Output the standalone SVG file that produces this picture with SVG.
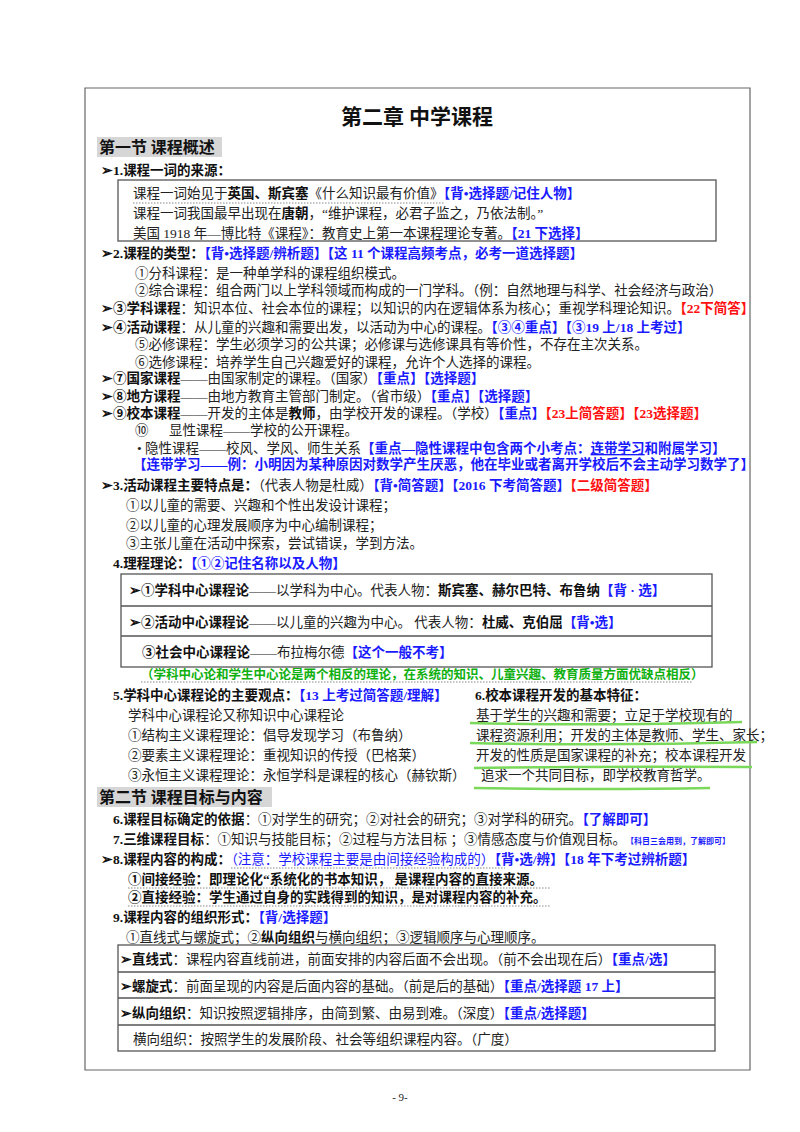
<svg xmlns="http://www.w3.org/2000/svg" width="800" height="1132" viewBox="0 0 800 1132">
<style>
text{font-family:"Liberation Serif","Noto Sans CJK SC",serif;font-size:13.5px;fill:#222}
.b{font-weight:bold;fill:#111}
.bl{font-weight:bold;fill:#1a1aff}
.r{font-weight:bold;fill:#ff1010}
.g{font-weight:bold;fill:#10b010}
.box{fill:none;stroke:#555;stroke-width:1.3}
.gl{stroke:#7ad85a;stroke-width:2.5;fill:none}
.dot{stroke:#888;stroke-width:1;stroke-dasharray:1.5,1.5;fill:none}
</style>
<rect width="800" height="1132" fill="#fff"/>
<g id="page"><path d="M750,88 H85 V1070 H750 Z" fill="none" stroke="#666" stroke-width="1.2"/></g>
<g id="title"><text x="417" y="124" text-anchor="middle" class="b" style="font-size:21px;font-family:'Noto Sans CJK SC',sans-serif">第二章  中学课程</text></g>
<g id="sec1"><rect x="97" y="137" width="125" height="20" fill="#d6d6d6"/><text x="99" y="153" class="b" style="font-size:16px;font-family:'Noto Sans CJK SC',sans-serif">第一节  课程概述</text></g>
<g id="s1">
<text x="101" y="175" class="b">➢1.课程一词的来源：</text>
<rect x="118" y="180" width="598" height="61" class="box"/>
<text x="133" y="198">课程一词始见于<tspan class="b">英国、斯宾塞</tspan>《什么知识最有价值》<tspan class="bl">【背•选择题/记住人物】</tspan></text>
<path d="M133,203 H445" class="dot"/>
<text x="133" y="218">课程一词我国最早出现在<tspan class="b">唐朝</tspan>，“维护课程，必君子监之，乃依法制。”</text>
<text x="133" y="238">美国 1918 年—博比特《课程》：教育史上第一本课程理论专著。<tspan class="bl">【21 下选择】</tspan></text>
</g>
<g id="s2">
<text x="101" y="258" class="b">➢2.课程的类型：<tspan class="bl">【背•选择题/辨析题】【这 11 个课程高频考点，必考一道选择题】</tspan></text>
<text x="135" y="278">①分科课程：是一种单学科的课程组织模式。</text>
<text x="135" y="295">②综合课程：组合两门以上学科领域而构成的一门学科。（例：自然地理与科学、社会经济与政治）</text>
<text x="101" y="313"><tspan class="b">➢③学科课程</tspan>：知识本位、社会本位的课程；以知识的内在逻辑体系为核心；重视学科理论知识。<tspan class="r">【22下简答】</tspan></text>
<text x="101" y="332"><tspan class="b">➢④活动课程</tspan>：从儿童的兴趣和需要出发，以活动为中心的课程。<tspan class="bl">【③④重点】【③19 上/18 上考过】</tspan></text>
<text x="135" y="349">⑤必修课程：学生必须学习的公共课；必修课与选修课具有等价性，不存在主次关系。</text>
<text x="135" y="367">⑥选修课程：培养学生自己兴趣爱好的课程，允许个人选择的课程。</text>
<text x="101" y="383"><tspan class="b">➢⑦国家课程</tspan>——由国家制定的课程。（国家）<tspan class="bl">【重点】【选择题】</tspan></text>
<text x="101" y="401"><tspan class="b">➢⑧地方课程</tspan>——由地方教育主管部门制定。（省市级）<tspan class="bl">【重点】【选择题】</tspan></text>
<text x="101" y="418"><tspan class="b">➢⑨校本课程</tspan>——开发的主体是<tspan class="b">教师</tspan>，由学校开发的课程。（学校）<tspan class="bl">【重点】</tspan><tspan class="r">【23上简答题】【23选择题】</tspan></text>
<text x="135" y="435">⑩</text><text x="169" y="435">显性课程——学校的公开课程。</text>
<text x="137" y="453">• 隐性课程——校风、学风、师生关系<tspan class="bl">【重点—隐性课程中包含两个小考点：<tspan text-decoration="underline">连带学习</tspan>和附属学习】</tspan></text>
<text x="133" y="469" class="bl">【连带学习——例：小明因为某种原因对数学产生厌恶，他在毕业或者离开学校后不会主动学习数学了】</text>
</g>
<g id="s3">
<text x="101" y="490"><tspan class="b">➢3.活动课程主要特点是：</tspan>（代表人物是杜威）<tspan class="bl">【背•简答题】【2016 下考简答题】</tspan><tspan class="r">【二级简答题】</tspan></text>
<text x="126" y="510">①以儿童的需要、兴趣和个性出发设计课程；</text>
<text x="126" y="530">②以儿童的心理发展顺序为中心编制课程；</text>
<text x="126" y="548">③主张儿童在活动中探索，尝试错误，学到方法。</text>
<text x="113" y="568" class="b">4.理程理论：<tspan class="bl">【①②记住名称以及人物】</tspan></text>
</g>
<g id="s4table">
<rect x="121" y="574" width="591" height="93" class="box"/>
<path d="M121,606 H712 M121,636 H712" stroke="#555" stroke-width="1.3"/>
<text x="129" y="595"><tspan class="b">➢①学科中心课程论</tspan>——以学科为中心。代表人物：<tspan class="b">斯宾塞、赫尔巴特、布鲁纳</tspan><tspan class="bl">【背 · 选】</tspan></text>
<text x="129" y="627"><tspan class="b">➢②活动中心课程论</tspan>——以儿童的兴趣为中心。 代表人物：<tspan class="b">杜威、克伯屈</tspan><tspan class="bl">【背•选】</tspan></text>
<text x="142" y="657"><tspan class="b">③社会中心课程论</tspan>——布拉梅尔德<tspan class="bl">【这个一般不考】</tspan></text>
<text x="141" y="679" class="g" style="font-size:12.5px">（学科中心论和学生中心论是两个相反的理论，在系统的知识、儿童兴趣、教育质量方面优缺点相反）</text>
<path d="M141,682 H693" class="dot" stroke="#3c3"/>
</g>
<g id="s5">
<text x="113" y="700" class="b">5.学科中心课程论的主要观点：<tspan class="bl">【13 上考过简答题/理解】</tspan></text>
<text x="128" y="720">学科中心课程论又称知识中心课程论</text>
<text x="128" y="740">①结构主义课程理论：倡导发现学习（布鲁纳）</text>
<text x="128" y="760">②要素主义课程理论：重视知识的传授（巴格莱）</text>
<text x="128" y="780">③永恒主义课程理论：永恒学科是课程的核心（赫钦斯）</text>
</g>
<g id="s6">
<text x="475" y="700" class="b">6.校本课程开发的基本特征：</text>
<text x="476" y="720">基于学生的兴趣和需要；立足于学校现有的</text>
<text x="476" y="740">课程资源利用；开发的主体是教师、学生、家长；</text>
<text x="476" y="760">开发的性质是国家课程的补充；校本课程开发</text>
<text x="481" y="780">追求一个共同目标，即学校教育哲学。</text>
<path d="M470,723 Q600,726 742,722 M470,743 Q610,746 757,742 M474,768 Q600,766 752,767 M474,788 Q600,790 710,788" class="gl"/>
</g>
<g id="sec2"><rect x="97" y="787" width="175" height="20" fill="#d6d6d6"/><text x="99" y="803" class="b" style="font-size:16px;font-family:'Noto Sans CJK SC',sans-serif">第二节  课程目标与内容</text></g>
<g id="s7">
<text x="113" y="824"><tspan class="b">6.课程目标确定的依据</tspan>：①对学生的研究；②对社会的研究；③对学科的研究。<tspan class="bl">【了解即可】</tspan></text>
<text x="113" y="844"><tspan class="b">7.三维课程目标</tspan>：①知识与技能目标；②过程与方法目标 ；③情感态度与价值观目标。<tspan class="bl" style="font-size:8px">【科目三会用到，了解即可】</tspan></text>
<text x="101" y="864" class="b">➢8.课程内容的构成：<tspan class="bl" style="font-weight:normal">（注意：学校课程主要是由间接经验构成的）</tspan><tspan class="bl">【背•选/辨】【18 年下考过辨析题】</tspan></text>
<path d="M231,868 H505" class="dot" stroke="#55f"/>
<text x="128" y="884" class="b">①间接经验：即理论化“系统化的书本知识， 是课程内容的直接来源。</text>
<path d="M128,888 H550" class="dot"/>
<text x="128" y="902" class="b">②直接经验：学生通过自身的实践得到的知识，是对课程内容的补充。</text>
<path d="M128,906 H550" class="dot"/>
<text x="113" y="922" class="b">9.课程内容的组织形式：<tspan class="bl">【背/选择题】</tspan></text>
<text x="126" y="942">①直线式与螺旋式；②<tspan class="b">纵向组织</tspan>与横向组织；③逻辑顺序与心理顺序。</text>
</g>
<g id="s9table">
<rect x="118" y="945" width="597" height="106" class="box"/>
<path d="M118,972 H715 M118,998 H715 M118,1025 H715" stroke="#555" stroke-width="1.3"/>
<text x="120" y="964"><tspan class="b">➢直线式</tspan>：课程内容直线前进，前面安排的内容后面不会出现。（前不会出现在后）<tspan class="bl">【重点/选】</tspan></text>
<text x="120" y="991"><tspan class="b">➢螺旋式</tspan>：前面呈现的内容是后面内容的基础。（前是后的基础）<tspan class="bl">【重点/选择题 17 上】</tspan></text>
<text x="120" y="1018"><tspan class="b">➢纵向组织</tspan>：知识按照逻辑排序，由简到繁、由易到难。（深度）<tspan class="bl">【重点/选择题】</tspan></text>
<text x="133" y="1044">横向组织：按照学生的发展阶段、社会等组织课程内容。（广度）</text>
</g>
<g id="footer"><text x="400" y="1101" text-anchor="middle" style="font-size:11px">- 9-</text></g>
</svg>
